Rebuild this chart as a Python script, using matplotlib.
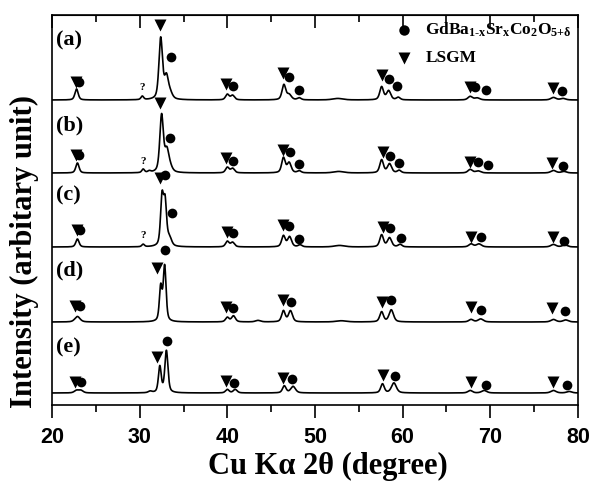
import numpy as np
import matplotlib.pyplot as plt

plt.rcParams['mathtext.fontset'] = 'custom'
plt.rcParams['mathtext.rm'] = 'Liberation Serif:bold'
plt.rcParams['mathtext.it'] = 'Liberation Serif:bold'
plt.rcParams['mathtext.bf'] = 'Liberation Serif:bold'

# ---- data -------------------------------------------------------------
# (2theta, height, half width) of each reflection, heights in arbitrary units
labels = ['(a)', '(b)', '(c)', '(d)', '(e)']
offsets = [305, 232, 158, 83, 12]
label_h = [60, 48, 52, 52, 46]

peaks_a = [(22.8, 11, 0.22), (30.3, 3.5, 0.18), (32.4, 61, 0.24), (33.05, 22, 0.28),
           (33.5, 5, 0.3), (40.0, 5.5, 0.24), (40.6, 4.5, 0.26), (46.45, 15, 0.25),
           (47.05, 5, 0.3), (48.2, 2, 0.25), (52.6, 1.5, 0.7), (57.6, 13, 0.25),
           (58.4, 9, 0.28), (59.5, 2.5, 0.25), (67.7, 3.5, 0.3), (68.5, 2, 0.35),
           (77.2, 2.5, 0.35), (78.3, 1.5, 0.35)]
peaks_b = [(22.9, 10, 0.22), (30.4, 3.5, 0.18), (31.1, 1.5, 0.2), (32.5, 57, 0.24),
           (33.1, 21, 0.28), (33.5, 4, 0.3), (40.0, 5.5, 0.24), (40.6, 4.5, 0.26),
           (46.4, 15, 0.24), (47.05, 10, 0.27), (48.2, 2, 0.25), (52.7, 1.5, 0.7),
           (57.6, 13, 0.25), (58.5, 9, 0.28), (59.6, 2.5, 0.25), (67.7, 3.5, 0.3),
           (68.6, 2, 0.35), (77.2, 2.5, 0.35), (78.4, 1.5, 0.35)]
peaks_c = [(22.9, 8, 0.22), (30.4, 2.5, 0.18), (32.55, 48, 0.2), (32.9, 42, 0.2),
           (33.4, 8, 0.28), (40.0, 5.5, 0.24), (40.6, 4.5, 0.26), (46.4, 11, 0.24),
           (47.1, 10, 0.27), (48.3, 2, 0.25), (52.8, 1.5, 0.7), (57.6, 12, 0.25),
           (58.5, 9, 0.28), (59.7, 2.5, 0.25), (67.8, 3, 0.3), (68.7, 3, 0.35),
           (77.2, 2.5, 0.35), (78.5, 2, 0.35)]
peaks_d = [(22.9, 5.5, 0.35), (32.4, 34, 0.18), (32.85, 55, 0.19), (40.0, 4.5, 0.24),
           (40.7, 6, 0.26), (43.5, 1.5, 0.35), (46.4, 11, 0.24), (47.2, 11, 0.27),
           (53.0, 1.2, 0.7), (57.6, 10, 0.25), (58.7, 12, 0.3), (67.8, 2.5, 0.3),
           (68.9, 3, 0.35), (77.2, 2.5, 0.35), (78.6, 2, 0.35)]
peaks_e = [(22.8, 2.5, 0.3), (23.3, 2.5, 0.3), (31.2, 1.5, 0.25), (32.3, 26, 0.19),
           (33.05, 42, 0.21), (40.0, 3.5, 0.24), (40.9, 3.5, 0.26), (46.5, 7, 0.24),
           (47.5, 6.5, 0.32), (57.7, 9, 0.24), (59.0, 10, 0.33), (67.7, 2.5, 0.3),
           (69.3, 2.5, 0.35), (77.2, 2.5, 0.35), (79.0, 1.5, 0.35)]
all_peaks = [peaks_a, peaks_b, peaks_c, peaks_d, peaks_e]

# marker positions (2theta, height above the trace baseline)
circ_a = [(23.1, 18), (33.6, 43), (40.6, 14), (47.0, 23), (48.2, 10), (58.4, 21),
          (59.4, 14), (68.3, 13), (69.5, 10), (78.2, 9)]
tri_a = [(22.7, 18), (32.3, 75), (39.9, 16), (46.4, 27), (57.6, 25), (67.7, 13), (77.1, 12)]
circ_b = [(23.1, 18), (33.5, 35), (40.6, 12), (47.1, 21), (48.2, 9), (58.6, 17),
          (59.6, 10), (68.6, 11), (69.7, 8), (78.3, 7)]
tri_b = [(22.7, 18), (32.3, 70), (39.9, 15), (46.4, 23), (57.7, 21), (67.7, 11), (77.0, 10)]
circ_c = [(23.2, 17), (32.9, 72), (33.7, 34), (40.6, 14), (47.0, 21), (48.2, 8),
          (58.6, 19), (59.8, 9), (68.9, 10), (78.4, 6)]
tri_c = [(22.8, 17), (32.3, 69), (40.0, 15), (46.4, 22), (57.7, 20), (67.8, 10), (77.1, 10)]
circ_d = [(23.2, 16), (32.85, 72), (40.7, 14), (47.3, 20), (58.7, 22), (68.9, 12), (78.5, 11)]
tri_d = [(22.6, 16), (32.0, 54), (39.8, 15), (46.3, 22), (57.6, 20), (67.8, 15), (77.0, 14)]
circ_e = [(23.3, 11), (33.1, 52), (40.8, 10), (47.4, 14), (59.1, 17), (69.5, 8), (78.8, 8)]
tri_e = [(22.6, 11), (32.0, 36), (39.9, 12), (46.4, 15), (57.7, 18), (67.8, 11), (77.1, 11)]
all_circ = [circ_a, circ_b, circ_c, circ_d, circ_e]
all_tri = [tri_a, tri_b, tri_c, tri_d, tri_e]

# unknown reflections marked "?"
unknown_x = [30.3, 30.4, 30.4]
unknown_h = [13, 11, 12]


def profile(x, peaks):
    # pseudo-Voigt sum of the reflections
    y = np.zeros_like(x)
    for pos, h, w in peaks:
        u = (x - pos) / w
        y += h * (0.5 / (1 + u ** 2) + 0.5 * np.exp(-np.log(2) * u ** 2))
    return y


fig = plt.figure(figsize=(5.93, 4.84), dpi=100)
ax = fig.add_axes([52 / 593, 79 / 484, 526 / 593, 390 / 484])

x = np.linspace(20, 80, 4001)
for i in range(5):
    base = offsets[i]
    ax.plot(x, base + profile(x, all_peaks[i]), color='black', lw=1.2)
    cx, cy = zip(*all_circ[i])
    ax.plot(cx, base + np.array(cy), 'o', color='black', ms=7, mec='none')
    tx, ty = zip(*all_tri[i])
    ax.plot(tx, base + np.array(ty), 'v', color='black', ms=8, mec='none')
    ax.text(20.5, base + label_h[i], labels[i], family='Liberation Serif',
            fontweight='bold', fontsize=16, ha='left', va='center')

for k in range(3):
    ax.text(unknown_x[k], offsets[k] + unknown_h[k], '?', family='Liberation Serif',
            fontweight='bold', fontsize=8, ha='center', va='center')

# legend
ax.plot([0.67], [0.962], 'o', color='black', ms=7.5, mec='none', transform=ax.transAxes)
ax.plot([0.67], [0.89], 'v', color='black', ms=9, mec='none', transform=ax.transAxes)
ax.text(0.71, 0.962, r'GdBa$_{\text{1-x}}$Sr$_{\text{x}}$Co$_{\text{2}}$O$_{\text{5+}\delta}$',
        transform=ax.transAxes, family='Liberation Serif', fontweight='bold',
        fontsize=12.5, va='center', ha='left')
ax.text(0.71, 0.89, 'LSGM', transform=ax.transAxes, family='Liberation Serif',
        fontweight='bold', fontsize=12.5, va='center', ha='left')

ax.set_xlim(20, 80)
ax.set_ylim(0, 390)
ax.set_yticks([])
ax.set_xticks(np.arange(20, 81, 10))
ax.set_xticks(np.arange(25, 80, 10), minor=True)
ax.tick_params(axis='x', which='major', direction='out', length=9, width=1.2, pad=7,
               labelsize=15.5)
ax.tick_params(axis='x', which='minor', direction='out', length=5, width=1.2)
for lab in ax.get_xticklabels():
    lab.set_fontfamily('Liberation Sans')
    lab.set_fontweight('bold')
for sp in ax.spines.values():
    sp.set_linewidth(1.2)

top = ax.secondary_xaxis('top')
top.set_xticks(np.arange(20, 81, 10))
top.set_xticks(np.arange(25, 80, 10), minor=True)
top.tick_params(which='major', direction='in', length=9, width=1.2, labeltop=False)
top.tick_params(which='minor', direction='in', length=5, width=1.2)
top.set_xticklabels([])

fig.text(24 / 593, 1 - 252 / 484, 'Intensity (arbitary unit)', rotation=90,
         family='Liberation Serif', fontweight='bold', fontsize=22, ha='center', va='center')
fig.text(328 / 593, 1 - 466 / 484, 'Cu K\u03b1 2\u03b8 (degree)', family='Liberation Serif',
         fontweight='bold', fontsize=22, ha='center', va='center')

fig.savefig('out.png', dpi=100)
